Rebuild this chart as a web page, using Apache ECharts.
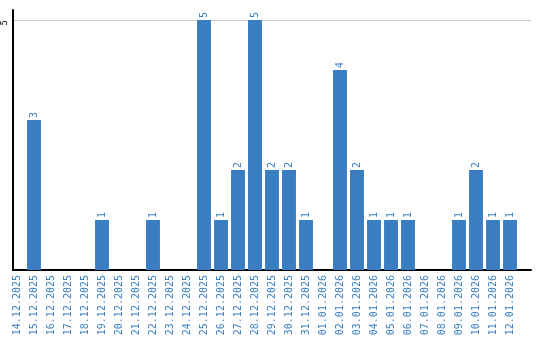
<!DOCTYPE html>
<html><head><meta charset="utf-8">
<script src="https://cdn.jsdelivr.net/npm/echarts@6/dist/echarts.min.js"></script>
<style>html,body{margin:0;padding:0;background:#fff}#c{width:540px;height:340px}</style>
</head><body><div id="c"></div>
<script>
const categories = ["14.12.2025","15.12.2025","16.12.2025","17.12.2025","18.12.2025","19.12.2025","20.12.2025","21.12.2025","22.12.2025","23.12.2025","24.12.2025","25.12.2025","26.12.2025","27.12.2025","28.12.2025","29.12.2025","30.12.2025","31.12.2025","01.01.2026","02.01.2026","03.01.2026","04.01.2026","05.01.2026","06.01.2026","07.01.2026","08.01.2026","09.01.2026","10.01.2026","11.01.2026","12.01.2026"];
const values = [0,3,0,0,0,1,0,0,1,0,0,5,1,2,5,2,2,1,0,4,2,1,1,1,0,0,1,2,1,1];
const yTicks = [5];

const chart = echarts.init(document.getElementById('c'), null, {renderer:'canvas'});
const mono = 'DejaVu Sans Mono';
const blue = '#3a7ec2';
chart.setOption({
  animation:false,
  grid:[
    {left:8.5,right:21.5,top:10,bottom:70,containLabel:false},
    {left:10.5,right:9,top:10,bottom:70,containLabel:false}
  ],
  xAxis:[
    {type:'category',data:categories,gridIndex:0,
      axisLine:{show:false},
      axisTick:{show:false},
      axisLabel:{rotate:90,interval:0,color:blue,fontFamily:mono,fontSize:10,margin:5}
    },
    {type:'value',gridIndex:1,min:0,max:1,
      axisLine:{show:true,onZero:false,lineStyle:{color:'#000',width:2}},
      axisTick:{show:false},axisLabel:{show:false},splitLine:{show:false}
    }
  ],
  yAxis:[
    {type:'value',gridIndex:0,min:0,max:5.2,interval:5,show:false,splitLine:{show:false}},
    {type:'value',gridIndex:1,min:0,max:5.2,interval:5,
      axisLine:{show:true,onZero:false,lineStyle:{color:'#000',width:2}},
      axisTick:{show:false},
      axisLabel:{rotate:90,align:'right',color:'#000',fontFamily:mono,fontSize:9,margin:4,showMinLabel:false,showMaxLabel:false,
        formatter:v=>yTicks.includes(v)?String(v):''},
      splitLine:{show:true,showMinLine:false,showMaxLine:false,lineStyle:{color:'#c8c8c8',width:1}}
    }
  ],
  series:[{type:'bar',xAxisIndex:0,yAxisIndex:0,data:values.map(v=>v===0?null:v),barCategoryGap:'18%',
    itemStyle:{color:blue},
    label:{show:true,position:'top',rotate:90,align:'left',verticalAlign:'middle',distance:2,
      color:blue,fontFamily:mono,fontSize:10}
  }]
});
</script></body></html>
